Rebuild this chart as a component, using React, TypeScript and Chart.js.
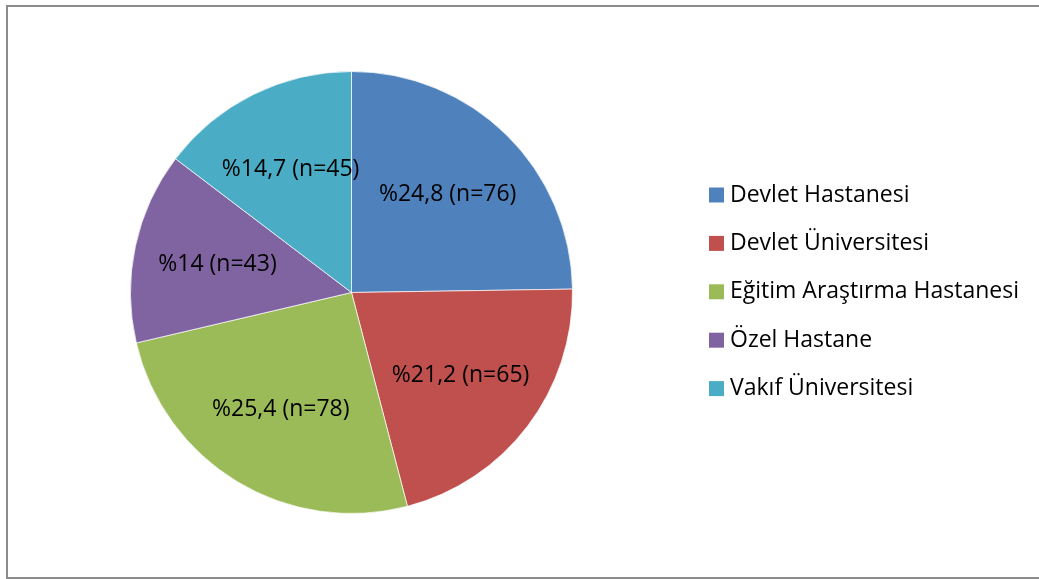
import React, { useEffect, useRef } from "react";
import { Chart, registerables } from "chart.js";

Chart.register(...registerables);

const categories = [
  "Devlet Hastanesi",
  "Devlet Üniversitesi",
  "Eğitim Araştırma Hastanesi",
  "Özel Hastane",
  "Vakıf Üniversitesi",
];
const counts = [76, 65, 78, 43, 45];
const percentLabels = ["24,8", "21,2", "25,4", "14", "14,7"];
const colors = ["#4F81BD", "#C0504D", "#9BBB59", "#8064A2", "#4BACC6"];

const FONT = "'Open Sans', Lato, sans-serif";
const FONT_SIZE = 23;

const labelPlugin = {
  id: "sliceLabels",
  afterDatasetsDraw(chart: any) {
    const ctx = chart.ctx;
    const meta = chart.getDatasetMeta(0);
    ctx.save();
    ctx.font = `${FONT_SIZE}px ${FONT}`;
    ctx.fillStyle = "#000";
    ctx.textAlign = "center";
    ctx.textBaseline = "middle";
    meta.data.forEach((arc: any, i: number) => {
      const { x, y, startAngle, endAngle, outerRadius } = arc.getProps(
        ["x", "y", "startAngle", "endAngle", "outerRadius"],
        true
      );
      const mid = (startAngle + endAngle) / 2;
      const r = outerRadius * 0.62;
      ctx.fillText(
        `%${percentLabels[i]} (n=${counts[i]})`,
        x + Math.cos(mid) * r,
        y + Math.sin(mid) * r
      );
    });
    ctx.restore();
  },
};

const legendPlugin = {
  id: "customLegend",
  afterDraw(chart: any) {
    const ctx = chart.ctx;
    const labels = chart.data.labels as string[];
    const bg = chart.data.datasets[0].backgroundColor as string[];
    const boxX = 709;
    const textX = 730;
    const rowH = 48.4;
    const firstY = 195;
    ctx.save();
    ctx.font = `${FONT_SIZE}px ${FONT}`;
    ctx.textBaseline = "middle";
    ctx.textAlign = "left";
    labels.forEach((lab, i) => {
      const cy = firstY + i * rowH;
      ctx.fillStyle = bg[i];
      ctx.fillRect(boxX, cy - 7.5, 15, 15);
      ctx.fillStyle = "#000";
      ctx.fillText(lab, textX, cy);
    });
    ctx.restore();
  },
};

export default function App() {
  const ref = useRef<HTMLCanvasElement>(null);
  useEffect(() => {
    if (!ref.current) return;
    const chart = new Chart(ref.current, {
      type: "pie",
      data: {
        labels: categories,
        datasets: [
          {
            data: counts,
            backgroundColor: colors,
            borderColor: "rgba(255,255,255,0.7)",
            borderWidth: 1,
          },
        ],
      },
      options: {
        responsive: false,
        animation: false,
        layout: { padding: { left: 130, right: 466, top: 71, bottom: 65 } },
        plugins: {
          legend: { display: false },
          tooltip: { enabled: false },
        },
      },
      plugins: [labelPlugin, legendPlugin],
    });
    return () => chart.destroy();
  }, []);
  return (
    <div>
      <div
        style={{
          position: "fixed",
          left: 6,
          top: 5,
          width: 1033,
          height: 570,
          borderTop: "2px solid #8c8c8c",
          borderLeft: "2px solid #8c8c8c",
          borderBottom: "2px solid #8c8c8c",
          boxSizing: "content-box",
          background: "#fff",
        }}
      />
      <canvas
        ref={ref}
        width={1039}
        height={579}
        style={{ position: "fixed", left: 0, top: 0, width: 1039, height: 579 }}
      />
    </div>
  );
}
